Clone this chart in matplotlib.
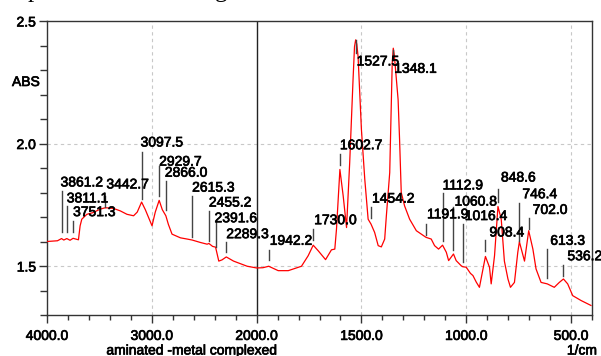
import numpy as np
import matplotlib
matplotlib.use('Agg')
import matplotlib.pyplot as plt
import matplotlib.patheffects as pe
from matplotlib.ticker import FixedLocator, FixedFormatter, NullFormatter

# spectrum (wavenumber 1/cm, absorbance)
wavenumber = [4000, 3900, 3861.2, 3840, 3811.1, 3780, 3751.3, 3700, 3684, 3668,
              3620, 3560, 3493, 3442.7, 3366, 3301, 3237, 3174, 3139, 3097.5,
              3062, 2998, 2967, 2929.7, 2900, 2866.0, 2842, 2807, 2727, 2663,
              2615.3, 2536, 2472, 2455.2, 2420, 2391.6, 2361, 2330, 2289.3, 2220,
              2090, 2000, 1970, 1942.2, 1897, 1849, 1786, 1754, 1730.0, 1706,
              1671, 1643, 1627, 1619, 1602.7, 1587, 1571, 1556, 1540, 1533,
              1527.5, 1522, 1516, 1500, 1484, 1468, 1454.2, 1437, 1420, 1405,
              1389, 1381, 1365, 1353, 1348.1, 1343, 1325, 1318, 1310, 1294,
              1270, 1238, 1191.9, 1167, 1151, 1132, 1112.9, 1095, 1084, 1060.8,
              1048, 1024, 1016.4, 1000, 980, 968, 952, 937, 908.4, 889,
              881, 865, 848.6, 833, 818, 801, 789, 770, 754, 746.4,
              722, 702.0, 682, 667, 643, 613.3, 580, 556, 536.2, 516,
              492, 452, 405]
absorbance = [1.600, 1.603, 1.612, 1.606, 1.612, 1.605, 1.613, 1.607, 1.664, 1.691,
              1.711, 1.718, 1.732, 1.738, 1.735, 1.725, 1.711, 1.705, 1.720, 1.761,
              1.730, 1.664, 1.720, 1.768, 1.730, 1.705, 1.670, 1.630, 1.615, 1.610,
              1.606, 1.596, 1.589, 1.592, 1.580, 1.577, 1.520, 1.525, 1.537, 1.520,
              1.499, 1.492, 1.493, 1.499, 1.481, 1.481, 1.499, 1.542, 1.585, 1.562,
              1.526, 1.566, 1.569, 1.650, 1.894, 1.786, 1.657, 1.921, 2.260, 2.395,
              2.423, 2.405, 2.355, 2.057, 1.854, 1.691, 1.671, 1.637, 1.583, 1.578,
              1.610, 1.705, 1.881, 2.330, 2.389, 2.360, 2.179, 2.016, 1.800, 1.745,
              1.691, 1.644, 1.617, 1.610, 1.583, 1.569, 1.585, 1.556, 1.522, 1.549,
              1.522, 1.501, 1.497, 1.495, 1.470, 1.461, 1.434, 1.413, 1.539, 1.495,
              1.427, 1.542, 1.743, 1.691, 1.520, 1.447, 1.413, 1.433, 1.556, 1.599,
              1.520, 1.644, 1.569, 1.488, 1.433, 1.427, 1.413, 1.433, 1.447, 1.427,
              1.379, 1.359, 1.339]

# peak picks
peak_wn = [3861.2, 3811.1, 3751.3, 3442.7, 3097.5, 2929.7, 2866.0, 2615.3, 2455.2,
           2391.6, 2289.3, 1942.2, 1730.0, 1602.7, 1527.5, 1348.1, 1454.2, 1191.9,
           1112.9, 1060.8, 1016.4, 908.4, 848.6, 746.4, 702.0, 613.3, 536.2]
peak_text = ['%.1f' % w for w in peak_wn]

# layout for peak marks: line top, line bottom, text y (data units), text x shift (px)
mark_top = [1.806, 1.744, 1.684, 1.786, 1.967, 1.908, 1.847, 1.786, 1.725,
            1.678, 1.599, 1.566, 1.650, 1.959, 2.423, 2.382, 1.739, 1.671,
            1.800, 1.739, 1.671, 1.606, 1.813, 1.759, 1.694, 1.569, 1.504]
mark_bot = [1.639, 1.638, 1.639, 1.739, 1.772, 1.785, 1.729, 1.617, 1.603,
            1.576, 1.558, 1.526, 1.607, 1.911, 2.369, 2.355, 1.694, 1.626,
            1.603, 1.565, 1.515, 1.562, 1.760, 1.603, 1.650, 1.450, 1.461]
text_y = [1.841, 1.776, 1.720, 1.833, 2.004, 1.926, 1.881, 1.820, 1.759,
          1.695, 1.630, 1.603, 1.687, 1.993, 2.335, 2.305, 1.775, 1.711,
          1.829, 1.763, 1.704, 1.637, 1.861, 1.793, 1.729, 1.603, 1.540]
text_dx = [-1, 0, 0, 1, -1, 0, -1, 0, 0,
           -1, 0, 1, 1, 0, 1, 1, 1, 1,
           0, 1, 2, 4, 3, 3, 4, 3, 4]


def fwd(x):
    x = np.asarray(x, dtype=float)
    return np.where(x >= 2000, x, 2 * x - 2000)


def inv(u):
    u = np.asarray(u, dtype=float)
    return np.where(u >= 2000, u, (u + 2000) / 2)


plt.rcParams['font.family'] = ['Liberation Sans', 'DejaVu Sans']
heavy = [pe.withStroke(linewidth=0.5, foreground='black')]

fig = plt.figure(figsize=(6.01, 3.56), dpi=100)
ax = fig.add_axes([47 / 601, 1 - 315 / 356, 545 / 601, 294 / 356])
ax.set_xscale('function', functions=(fwd, inv))

ax.plot(wavenumber, absorbance, color='#ff0000', linewidth=0.9, zorder=3)

for w, t, y0, y1, ty, dx in zip(peak_wn, peak_text, mark_top, mark_bot, text_y, text_dx):
    ax.plot([w, w], [y1, y0], color='#444444', linewidth=1.0, zorder=4)
    ax.annotate(t, xy=(w, ty), xytext=(dx * 0.72, 0), textcoords='offset points',
                ha='left', va='center', fontsize=10, color='black', zorder=5,
                path_effects=heavy)

ax.set_xlim(4000, 400)
ax.set_ylim(1.3, 2.5)

major_x = [4000, 3000, 2000, 1500, 1000, 500]
minor_x = [3800, 3600, 3400, 3200, 2800, 2600, 2400, 2200,
           1900, 1800, 1700, 1600, 1400, 1300, 1200, 1100,
           900, 800, 700, 600, 400]
ax.xaxis.set_major_locator(FixedLocator(major_x))
ax.xaxis.set_major_formatter(FixedFormatter(['%.1f' % v for v in major_x]))
ax.xaxis.set_minor_locator(FixedLocator(minor_x))
ax.xaxis.set_minor_formatter(NullFormatter())

ax.yaxis.set_major_locator(FixedLocator([1.5, 2.0, 2.5]))
ax.yaxis.set_major_formatter(FixedFormatter(['1.5', '2.0', '2.5']))
ax.yaxis.set_minor_locator(FixedLocator([1.3, 1.4, 1.6, 1.7, 1.8, 1.9, 2.1, 2.2, 2.3, 2.4]))

ax.tick_params(axis='both', which='major', direction='out', length=6, width=1,
               labelsize=10, color='#333333')
ax.tick_params(axis='x', which='major', pad=4)
ax.tick_params(axis='y', which='major', pad=2)
ax.tick_params(axis='x', which='minor', direction='out', length=3.5, width=1, color='#333333')
ax.tick_params(axis='y', which='minor', direction='out', length=5, width=1, color='#333333')
for lab in ax.get_xticklabels() + ax.get_yticklabels():
    lab.set_path_effects(heavy)

for v in [3000, 1500, 1000, 500]:
    ax.axvline(v, color='#c8c8c8', linewidth=0.8, linestyle=(0, (3, 3)), zorder=1)
for v in [1.5, 2.0]:
    ax.axhline(v, color='#c8c8c8', linewidth=0.8, linestyle=(0, (3, 3)), zorder=1)
ax.axvline(2000, color='#222222', linewidth=1.0, zorder=2)

for s in ax.spines.values():
    s.set_color('#333333')
    s.set_linewidth(1.0)

fig.text(12 / 601, 1 - 82 / 356, 'ABS', fontsize=10, ha='left', va='center',
         path_effects=heavy)
fig.text(192 / 601, 1 - 350.5 / 356, 'aminated -metal complexed', fontsize=10,
         ha='center', va='center', path_effects=heavy)
fig.text(597 / 601, 1 - 350.5 / 356, '1/cm', fontsize=10, ha='right', va='center',
         path_effects=heavy)

# descenders of the document line above, cut off by the crop
fig.text(28 / 601, 1 + 3 / 356, 'p', fontsize=18, family='Liberation Serif',
         ha='left', va='baseline')
fig.text(215 / 601, 1 + 3 / 356, 'g', fontsize=18, family='Liberation Serif',
         ha='left', va='baseline')

fig.savefig('out.png', dpi=100)
